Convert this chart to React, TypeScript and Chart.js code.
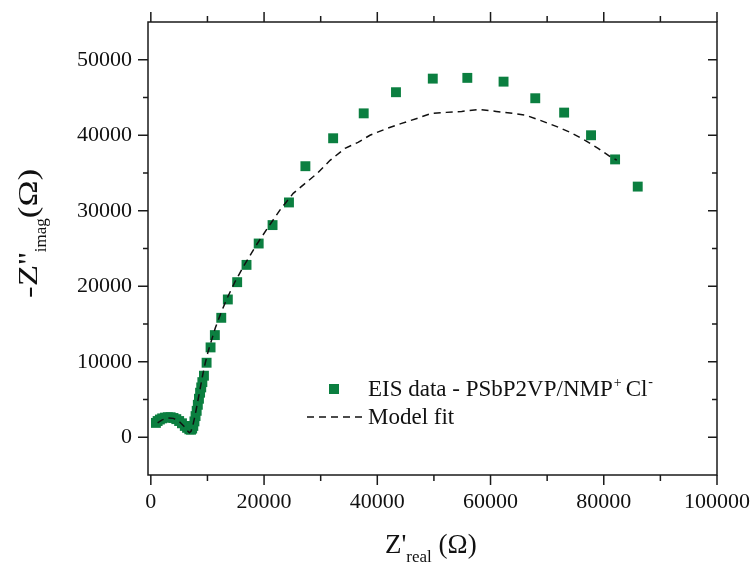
import React, { useEffect, useRef } from 'react';
import { Chart, registerables } from 'chart.js';
Chart.register(...registerables);

const eisX = [900, 1200, 1600, 2000, 2500, 3000, 3500, 4000, 4500, 5000, 5500, 6000, 6400, 6800, 7100, 7300, 7500, 7700, 7900, 8100, 8300, 8500, 8700, 8900, 9100, 9380, 9850, 10550, 11310, 12440, 13600, 15250, 16900, 19050, 21500, 24400, 27300, 32200, 37600, 43300, 49800, 55900, 62300, 67900, 73000, 77750, 82000, 86000];
const eisY = [1900, 2150, 2350, 2500, 2600, 2650, 2650, 2550, 2400, 2150, 1850, 1500, 1250, 1050, 1000, 1150, 1500, 2100, 2800, 3500, 4300, 5100, 5900, 6600, 7300, 8150, 9870, 11900, 13530, 15820, 18250, 20540, 22830, 25660, 28100, 31100, 35900, 39600, 42900, 45700, 47500, 47600, 47100, 44900, 43000, 40000, 36800, 33200];

const fitX = [1200, 2000, 3000, 4000, 5000, 5800, 6400, 6800, 7100, 7400, 7700, 8000, 8300, 8600, 8900, 9200, 9600, 10100, 10700, 11400, 12300, 13400, 14800, 16500, 18500, 20700, 23000, 25150, 29400, 31660, 34300, 36600, 38700, 41700, 44300, 47000, 49600, 52200, 54900, 58000, 61000, 63900, 66300, 68800, 71600, 74100, 76700, 79000, 81300, 82300];
const fitY = [1900, 2300, 2550, 2500, 2100, 1500, 900, 600, 800, 1500, 2500, 3600, 4800, 6000, 7200, 8400, 9800, 11300, 12800, 14500, 16300, 18300, 20500, 22800, 25300, 27800, 30300, 32300, 34960, 36680, 38270, 39060, 40000, 40900, 41570, 42230, 42900, 43030, 43160, 43430, 43160, 42900, 42630, 41970, 41180, 40380, 39330, 38270, 37080, 36700];

const xMajor = [0, 20000, 40000, 60000, 80000, 100000];
const xMinor = [10000, 30000, 50000, 70000, 90000];
const yMajor = [0, 10000, 20000, 30000, 40000, 50000];
const yMinor = [5000, 15000, 25000, 35000, 45000];

const legendData = 'EIS data - PSbP2VP/NMP';
const legendFit = 'Model fit';

const GREEN = '#0b7f40';
const FONT = "'Liberation Serif', 'Times New Roman', serif";

const decor = {
  id: 'decor',
  afterDraw(chart: any) {
    const ctx = chart.ctx;
    const { left, right, top, bottom } = chart.chartArea;
    const xs = chart.scales.x;
    const ys = chart.scales.y;
    ctx.save();
    ctx.strokeStyle = '#1a1a1a';
    ctx.lineWidth = 1.5;
    ctx.strokeRect(left, top, right - left, bottom - top);
    ctx.beginPath();
    const tick = (x1: number, y1: number, x2: number, y2: number) => { ctx.moveTo(x1, y1); ctx.lineTo(x2, y2); };
    xMajor.forEach(v => { const p = xs.getPixelForValue(v); tick(p, bottom, p, bottom + 10); tick(p, top, p, top - 10); });
    xMinor.forEach(v => { const p = xs.getPixelForValue(v); tick(p, bottom, p, bottom + 6); tick(p, top, p, top - 6); });
    yMajor.forEach(v => { const p = ys.getPixelForValue(v); tick(left, p, left - 10, p); tick(right, p, right - 9, p); });
    yMinor.forEach(v => { const p = ys.getPixelForValue(v); tick(left, p, left - 5, p); tick(right, p, right - 5, p); });
    ctx.stroke();

    ctx.fillStyle = '#111';
    ctx.textBaseline = 'alphabetic';
    ctx.textAlign = 'left';
    // x title
    let x = 385;
    ctx.font = `27px ${FONT}`;
    ctx.fillText("Z'", x, 553);
    x += ctx.measureText("Z'").width;
    ctx.font = `17px ${FONT}`;
    ctx.fillText('real', x, 562);
    x += ctx.measureText('real').width;
    ctx.font = `27px ${FONT}`;
    ctx.fillText(' (\u03A9)', x, 553);

    // y title (reference glyphs are stretched along the text direction)
    ctx.save();
    ctx.translate(37, 298);
    ctx.rotate(-Math.PI / 2);
    let t = 0;
    const big = 1.3;
    ctx.font = `27px ${FONT}`;
    ctx.save(); ctx.scale(big, 1); ctx.fillText("-Z''", 0, 0); ctx.restore();
    t += ctx.measureText("-Z''").width * big;
    ctx.font = `17px ${FONT}`;
    ctx.fillText('imag', t, 9);
    t += ctx.measureText('imag').width;
    ctx.font = `27px ${FONT}`;
    ctx.save(); ctx.translate(t, 0); ctx.scale(big, 1); ctx.fillText('(\u03A9)', 0, 0); ctx.restore();
    ctx.restore();

    // legend
    ctx.fillStyle = GREEN;
    ctx.fillRect(329, 384, 10, 10);
    ctx.fillStyle = '#111';
    let lx = 368;
    ctx.font = `23px ${FONT}`;
    ctx.fillText(legendData, lx, 396);
    lx += ctx.measureText(legendData).width;
    ctx.font = `14px ${FONT}`;
    ctx.fillText('+', lx + 1, 387);
    lx += ctx.measureText('+').width + 5;
    ctx.font = `23px ${FONT}`;
    ctx.fillText('Cl', lx, 396);
    lx += ctx.measureText('Cl').width;
    ctx.font = `14px ${FONT}`;
    ctx.fillText('-', lx + 1, 386);

    ctx.font = `23px ${FONT}`;
    ctx.fillText(legendFit, 368, 424);
    ctx.strokeStyle = '#111';
    ctx.lineWidth = 1.5;
    ctx.setLineDash([7, 5]);
    ctx.beginPath();
    ctx.moveTo(307, 417);
    ctx.lineTo(364, 417);
    ctx.stroke();
    ctx.restore();
  },
};

export default function App() {
  const ref = useRef<HTMLCanvasElement>(null);
  useEffect(() => {
    document.body.style.margin = '0';
    if (!ref.current) return;
    const chart = new Chart(ref.current, {
      type: 'scatter',
      data: {
        datasets: [
          {
            label: 'Model fit',
            data: fitX.map((v, i) => ({ x: v, y: fitY[i] })),
            showLine: true,
            borderColor: '#111',
            borderWidth: 1.5,
            borderDash: [7, 5],
            pointRadius: 0,
            fill: false,
            order: 1,
          },
          {
            label: 'EIS data',
            data: eisX.map((v, i) => ({ x: v, y: eisY[i] })),
            pointStyle: 'rect',
            pointRadius: 7,
            pointBorderWidth: 0,
            backgroundColor: GREEN,
            borderColor: GREEN,
            order: 2,
          },
        ],
      },
      options: {
        animation: false,
        responsive: false,
        events: [],
        layout: { padding: { left: 0, right: 37, top: 22, bottom: 0 } },
        plugins: { legend: { display: false }, tooltip: { enabled: false }, title: { display: false } },
        scales: {
          x: {
            type: 'linear',
            min: -500,
            max: 100000,
            grid: { display: false, drawTicks: false },
            border: { display: false },
            afterBuildTicks: (s: any) => { s.ticks = xMajor.map(v => ({ value: v })); },
            afterFit: (s: any) => { s.height = 90; s.paddingLeft = 0; s.paddingRight = 0; },
            ticks: { padding: 14, color: '#111', font: { family: FONT, size: 22 }, maxRotation: 0, callback: (v: any) => String(v) },
          },
          y: {
            type: 'linear',
            min: -5000,
            max: 55000,
            grid: { display: false, drawTicks: false },
            border: { display: false },
            afterBuildTicks: (s: any) => { s.ticks = yMajor.map(v => ({ value: v })); },
            afterFit: (s: any) => { s.width = 148; s.paddingTop = 0; s.paddingBottom = 0; },
            ticks: { padding: 16, color: '#111', font: { family: FONT, size: 22 }, callback: (v: any) => String(v) },
          },
        },
      },
      plugins: [decor],
    });
    return () => chart.destroy();
  }, []);
  return <canvas ref={ref} width={754} height={565} style={{ display: 'block' }} />;
}
